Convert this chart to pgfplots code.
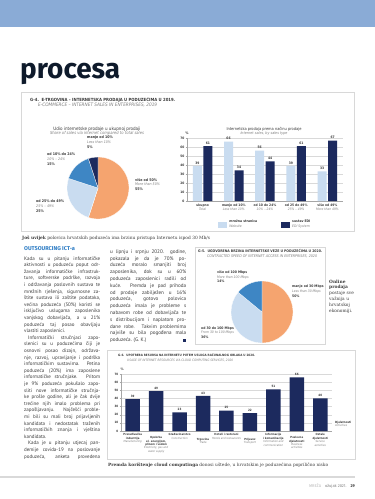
\documentclass[border=0pt]{standalone}
\usepackage{fontspec}
\usepackage{graphicx}
\usepackage{pgfplots}
\pgfplotsset{compat=1.18}
\setmainfont{Fira Sans}
\newfontfamily\body{PT Sans}
\newfontfamily\cond{DejaVu Sans Condensed}[BoldFont={DejaVu Sans Condensed Bold},ItalicFont={DejaVu Sans Condensed Oblique},BoldItalicFont={DejaVu Sans Condensed Bold Oblique}]
\newfontfamily\slab{DejaVu Serif}
\definecolor{band}{HTML}{8AABD6}
\definecolor{navy}{HTML}{1C2A5E}
\definecolor{lblue}{HTML}{C9DCF0}
\definecolor{mblue}{HTML}{3E86C4}
\definecolor{orng}{HTML}{F5A46F}
\definecolor{headblue}{HTML}{2B7BC4}
\definecolor{txt}{HTML}{3A3A3A}
\definecolor{boxline}{HTML}{D8D8D8}
\definecolor{heading}{HTML}{0E1A2B}
\newcommand\fs[2]{\fontsize{#1}{#2}\selectfont}
\newcommand\jl[1]{\hbox to 76pt{#1}}
\newcommand\el[1]{\hbox{#1}}
\newcommand\plab[3]{\textbf{#1}\\{\itshape\color{gray}#2}\\\textbf{#3}}
\begin{document}
\begin{tikzpicture}[x=1pt,y=1pt]
\useasboundingbox (0,0) rectangle (375,-499);
\fill[white] (0,0) rectangle (375,-499);
\fill[band] (0,0) rectangle (375,-27);
\node[anchor=base west, inner sep=0, text=heading] at (20,-78) {\resizebox{100pt}{!}{\bfseries procesa}};

% ---------------- G-4 box
\draw[boxline, line width=0.5pt] (21,-92) rectangle (354,-231);
\node[anchor=base west, inner sep=0, font=\cond\bfseries, text=txt] at (30,-101.5) {\resizebox{145pt}{!}{G-4.\ \ E-TRGOVINA – INTERNETSKA PRODAJA U PODUZEĆIMA U 2019.}};
\node[anchor=base west, inner sep=0, font=\cond\itshape, text=gray] at (38,-106.5) {\resizebox{119pt}{!}{E-COMMERCE – INTERNET SALES IN ENTERPRISES, 2019}};
\node[anchor=base, inner sep=0, font=\cond, text=txt] at (97,-130) {\resizebox{87pt}{!}{Udio internetske prodaje u ukupnoj prodaji}};
\node[anchor=base, inner sep=0, font=\cond\itshape, text=gray] at (97,-134.5) {\resizebox{94pt}{!}{Share of sales via internet compared to total sales}};
\node[anchor=base, inner sep=0, font=\cond, text=txt] at (264,-130) {\resizebox{75pt}{!}{Internetska prodaja prema načinu prodaje}};
\node[anchor=base, inner sep=0, font=\cond\itshape, text=gray] at (264,-134.5) {\resizebox{47pt}{!}{Internet sales, by sales type}};

% pie G-4
\begin{axis}[at={(98pt,-188pt)}, anchor=center, scale only axis, width=62pt, height=62pt,
  xmin=-1, xmax=1, ymin=-1, ymax=1, hide axis, clip=false]
\foreach \a/\b/\c in {0/55/orng, 55/80/lblue, 80/95/mblue, 95/100/navy}{
  \pgfmathsetmacro\sa{90-3.6*\a}
  \pgfmathsetmacro\ea{90-3.6*\b}
  \edef\tmp{\noexpand\fill[\c, draw=white, line width=0.3pt] (axis cs:0,0) -- (axis cs:{cos(\sa)},{sin(\sa)}) arc[start angle=\sa, end angle=\ea, radius=31pt] -- cycle;}
  \tmp
}
\end{axis}
\begin{scope}[every node/.style={anchor=north west, inner sep=0, align=left, font=\cond\fs{3.6}{4.9}, text=txt}]
\node at (87,-136) {\plab{manje od 10\%}{Less than 10\%}{5\%}};
\node at (47,-153) {\plab{od 10\% do 24\%}{10\% – 24\%}{15\%}};
\node at (135,-178) {\plab{više od 50\%}{More than 50\%}{55\%}};
\node at (36,-200) {\plab{od 25\% do 49\%}{25\% – 49\%}{25\%}};
\end{scope}

% bars G-4
\node[anchor=base, inner sep=0, font=\cond\bfseries\fs{3.5}{4}, text=txt] at (187,-134) {\%};
\begin{axis}[at={(187pt,-201pt)}, anchor=south west, scale only axis, width=156pt, height=63pt,
  xmin=-0.5, xmax=4.5, ymin=0, ymax=70, ytick={0,10,...,70}, xtick={0,...,4},
  ybar=1.5pt, bar width=9pt, clip=false,
  axis x line*=bottom, axis y line*=left, axis line style={gray!70, line width=0.4pt},
  ymajorgrids, grid style={gray!30, line width=0.3pt},
  xtick style={draw=none}, ytick style={gray!70, line width=0.3pt}, major tick length=1.5pt, tick align=outside,
  /pgf/number format/assume math mode=true,
  yticklabel style={font=\cond\bfseries\fs{3.2}{3.5}, text=txt, inner sep=1pt},
  xticklabel style={font=\cond\fs{3.3}{4.3}, text=txt, align=center, inner sep=1pt},
  xticklabels={{\textbf{ukupno}\\\textit{\color{gray}Total}},
    {\textbf{manje od 10\%}\\\textit{\color{gray}Less than 10\%}},
    {\textbf{od 10 do 24\%}\\\textit{\color{gray}10\% – 24\%}},
    {\textbf{od 25 do 49\%}\\\textit{\color{gray}25\% – 49\%}},
    {\textbf{više od 49\%}\\\textit{\color{gray}More than 49\%}}},
  nodes near coords, every node near coord/.append style={font=\cond\bfseries\fs{3.3}{3.5}, text=txt, inner sep=1.5pt},
  legend columns=2, legend cell align=left,
  legend style={draw=none, fill=none, inner sep=0pt, at={(0.2,-0.27)}, anchor=north west,
    cells={align=left}, font=\cond\fs{3.4}{4.5}, text=txt,
    /tikz/every even column/.append style={column sep=22pt}},
  legend image code/.code={\fill[#1] (0pt,-3pt) rectangle (9pt,3pt);}
]
\addplot[fill=lblue, draw=none] coordinates {(0,39) (1,66) (2,56) (3,39) (4,33)};
\addplot[fill=navy, draw=none] coordinates {(0,61) (1,34) (2,44) (3,61) (4,67)};
\legend{{\textbf{mrežna stranica}\\\textit{\color{gray}Website}},{\textbf{sustav EDI}\\\textit{\color{gray}EDI System}}}
\end{axis}

\node[anchor=base west, inner sep=0, font=\slab, text=txt] at (22,-239.5) {\resizebox{188pt}{!}{\textbf{Još uvijek} polovica hrvatskih poduzeća ima brzinu pristupa Internetu ispod 30 Mb/s}};

% ---------------- text columns
\node[anchor=base west, inner sep=0, font=\bfseries\fs{5.6}{6}, text=headblue] at (24,-250) {OUTSOURCING ICT-a};
\node[anchor=north west, inner sep=0, font=\body\fs{5}{6.6}, text=txt] at (24,-256.3) {\vbox{\baselineskip=6.6pt
\jl{Kada su u pitanju informatičke}
\jl{aktivnosti u poduzeću poput odr-}
\jl{žavanja informatičke infrastruk-}
\jl{ture, softverske podrške, razvoja}
\jl{i održavanja poslovnih sustava te}
\jl{mrežnih rješenja, sigurnosne za-}
\jl{štite sustava ili zaštite podataka,}
\jl{većina poduzeća (50\%) koristi se}
\jl{isključivo uslugama zaposlenika}
\jl{vanjskog dobavljača, a u 21\%}
\jl{poduzeća taj posao obavljaju}
\el{vlastiti zaposlenici.}
\jl{\hskip4pt Informatički stručnjaci zapo-}
\jl{slenici su u poduzećima čiji je}
\jl{osnovni posao dizajn, održava-}
\jl{nje, razvoj, upravljanje i podrška}
\jl{informatičkim sustavima. Petina}
\jl{poduzeća (20\%) ima zaposlene}
\jl{informatičke stručnjake. Pritom}
\jl{je 9\% poduzeća pokušalo zapo-}
\jl{sliti nove informatičke stručnja-}
\jl{ke prošle godine, ali je čak dvije}
\jl{trećine njih imalo problema pri}
\jl{zapošljavanju. Najčešći proble-}
\jl{mi bili su mali broj prijavljenih}
\jl{kandidata i nedostatak traženih}
\jl{informatičkih znanja i vještina}
\el{kandidata.}
\jl{\hskip4pt Kada je u pitanju utjecaj pan-}
\jl{demije covida-19 na poslovanje}
\jl{poduzeća, anketa provedena}
}};
\node[anchor=north west, inner sep=0, font=\body\fs{5.1}{6.8}, text=txt] at (110,-249.5) {\vbox{\baselineskip=6.8pt
\jl{u lipnju i srpnju 2020. godine,}
\jl{pokazala je da je 70\% po-}
\jl{duzeća moralo smanjiti broj}
\jl{zaposlenika, dok su u 60\%}
\jl{poduzeća zaposlenici radili od}
\jl{kuće. Premda je pad prihoda}
\jl{od prodaje zabilježen u 16\%}
\jl{poduzeća, gotovo polovica}
\jl{poduzeća imala je probleme s}
\jl{nabavom robe od dobavljača te}
\jl{s distribucijom i naplatom pro-}
\jl{dane robe. Takvim problemima}
\jl{najviše su bila pogođena mala}
\jl{poduzeća. (G. K.)\hfill{\color{navy}\rule{3pt}{3pt}}}
}};

% ---------------- G-5 box
\draw[boxline, line width=0.5pt] (195,-247) rectangle (325,-344);
\node[anchor=base west, inner sep=0, font=\cond\bfseries, text=txt] at (198,-252.5) {\resizebox{124pt}{!}{G-5.\ \ UGOVORENA BRZINA INTERNETSKE VEZE U PODUZEĆIMA U 2020.}};
\node[anchor=base west, inner sep=0, font=\cond\itshape, text=gray] at (207,-257) {\resizebox{110pt}{!}{CONTRACTED SPEED OF INTERNET ACCESS IN ENTERPRISES, 2020}};
\begin{axis}[at={(262pt,-312pt)}, anchor=center, scale only axis, width=62pt, height=62pt,
  xmin=-1, xmax=1, ymin=-1, ymax=1, hide axis, clip=false]
\foreach \a/\b/\c in {0/50/orng, 50/86/lblue, 86/100/mblue}{
  \pgfmathsetmacro\sa{90-3.6*\a}
  \pgfmathsetmacro\ea{90-3.6*\b}
  \edef\tmp{\noexpand\fill[\c, draw=white, line width=0.3pt] (axis cs:0,0) -- (axis cs:{cos(\sa)},{sin(\sa)}) arc[start angle=\sa, end angle=\ea, radius=31pt] -- cycle;}
  \tmp
}
\end{axis}
\begin{scope}[every node/.style={anchor=north west, inner sep=0, align=left, font=\cond\fs{3.4}{4.7}, text=txt}]
\node at (217,-270.5) {\plab{više od 100 Mbps}{More than 100 Mbps}{14\%}};
\node at (292,-285) {\plab{manje od 30 Mbps}{Less than 30 Mbps}{50\%}};
\node at (201,-326.5) {\plab{od 30 do 100 Mbps}{From 30 to 100 Mbps}{36\%}};
\end{scope}
\node[anchor=north west, inner sep=0, align=left, font=\slab\fs{4.4}{5.9}, text=txt] at (329,-279.5) {\textbf{Online}\\\textbf{prodaja}\\postaje sve\\važnija u\\hrvatskoj\\ekonomiji.};

% ---------------- G-6 box
\draw[boxline, line width=0.5pt] (107,-350) rectangle (355,-459);
\node[anchor=base west, inner sep=0, font=\cond\bfseries, text=txt] at (118,-356.5) {\resizebox{137pt}{!}{G-6.\ \ UPOTREBA RESURSA NA INTERNETU PUTEM USLUGA RAČUNALNOG OBLAKA U 2020.}};
\node[anchor=base west, inner sep=0, font=\cond\itshape, text=gray] at (127,-361) {\resizebox{106pt}{!}{USAGE OF INTERNET RESOURCES VIA CLOUD COMPUTING SERVICES, 2020}};
\node[anchor=base, inner sep=0, font=\cond\bfseries\fs{3.3}{4}, text=txt] at (122,-370) {\%};
\begin{axis}[at={(121pt,-431pt)}, anchor=south west, scale only axis, width=211pt, height=57pt,
  xmin=-0.5, xmax=8.5, ymin=0, ymax=70, ytick={0,10,...,70}, xtick={0,...,8},
  ybar, bar width=14.5pt, clip=false,
  axis x line*=bottom, axis y line*=left, axis line style={gray!70, line width=0.4pt},
  ymajorgrids, grid style={gray!30, line width=0.3pt},
  xtick style={draw=none}, ytick style={gray!70, line width=0.3pt}, major tick length=1.5pt, tick align=outside,
  /pgf/number format/assume math mode=true,
  yticklabel style={font=\cond\bfseries\fs{3}{3.5}, text=txt, inner sep=1pt},
  xticklabel style={font=\cond\fs{2.8}{3.4}, text=txt, align=center, inner sep=1pt, anchor=north},
  xticklabels={
    {\textbf{Prerađivačka}\\\textbf{industrija}\\\textit{\color{gray}Manufacturing}},
    {\mbox{}\\[1.5pt]\textbf{Opskrba}\\\textbf{el. energijom,}\\\textbf{plinom i vodom}\\\textit{\color{gray}Electricity, gas and}\\\textit{\color{gray}water supply}},
    {\textbf{Građevinarstvo}\\\textit{\color{gray}Construction}},
    {\mbox{}\\[3pt]\textbf{Trgovina}\\\textit{\color{gray}Trade}},
    {\textbf{Hoteli i restorani}\\\textit{\color{gray}Hotels and restaurants}},
    {\mbox{}\\[3pt]\textbf{Prijevoz}\\\textit{\color{gray}Transport}},
    {\textbf{Informacije}\\\textbf{i komunikacije}\\\textit{\color{gray}Information and}\\\textit{\color{gray}communication}},
    {\mbox{}\\[1.5pt]\textbf{Poslovne}\\\textbf{djelatnosti}\\\textit{\color{gray}Business}\\\textit{\color{gray}activities}},
    {\textbf{Ostale}\\\textbf{djelatnosti}\\\textit{\color{gray}Service}\\\textit{\color{gray}activities}}},
  nodes near coords, every node near coord/.append style={font=\cond\bfseries\fs{3}{3.5}, text=txt, inner sep=1.5pt}
]
\addplot[fill=navy, draw=none] coordinates {(0,39) (1,49) (2,23) (3,43) (4,25) (5,22) (6,51) (7,66) (8,40)};
\end{axis}
\node[anchor=west, inner sep=0, align=left, font=\cond\fs{2.9}{3.5}, text=txt] at (335,-424) {\textbf{Djelatnosti}\\\textit{\color{gray}Activities}};
\node[anchor=base west, inner sep=0, font=\slab, text=txt] at (108,-466.5) {\resizebox{220pt}{!}{\textbf{Premda korištenje cloud computinga} donosi uštede, u hrvatskim je poduzećima poprilično nisko}};

% ---------------- footer
\fill[gray!30] (0,-476) rectangle (355,-478);
\node[anchor=base east, inner sep=0, font=\fs{4}{5}] at (355,-487) {{\color{gray!55}MREŽA}\quad{\color{gray}ožujak 2021.}\quad{\color{txt}\bfseries 29}};
\end{tikzpicture}
\end{document}
